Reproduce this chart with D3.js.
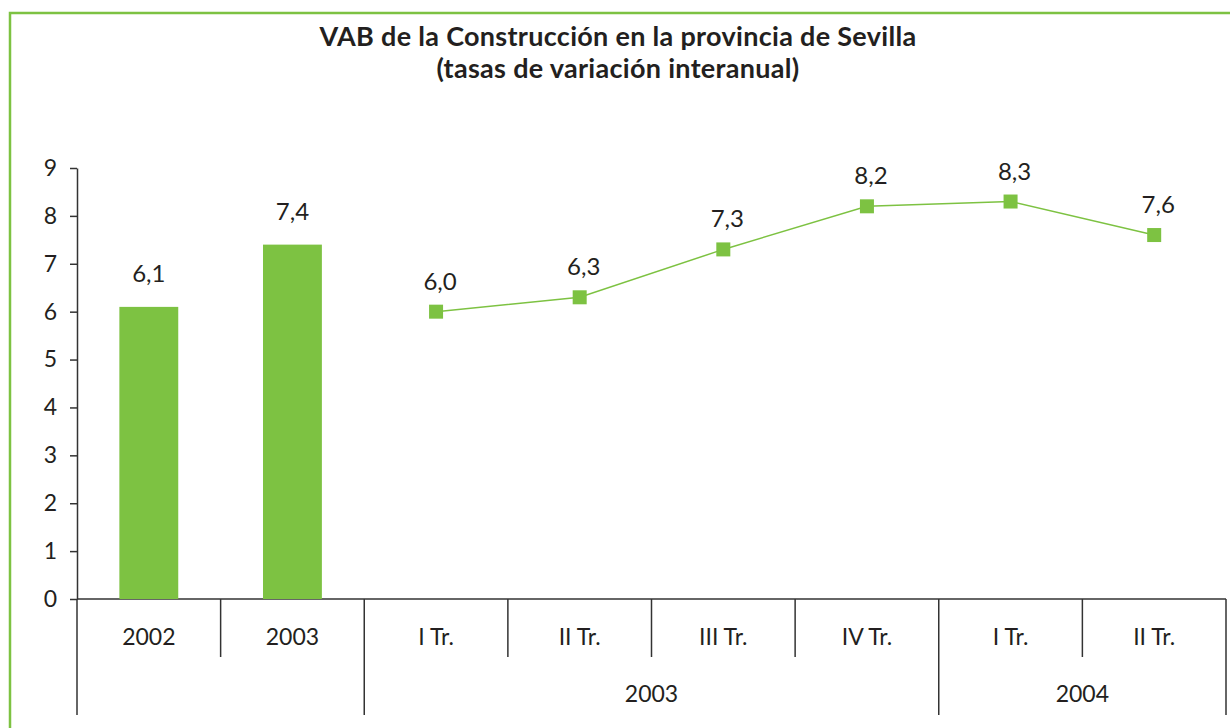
<!DOCTYPE html>
<html>
<head>
<meta charset="utf-8">
<script src="https://cdn.jsdelivr.net/npm/d3@7"></script>
<style>
body{margin:0;background:#fff;}
text{font-family:Lato,"Open Sans",sans-serif;fill:#231f20;}
.axis path,.axis line{stroke:#333;stroke-width:1.5;}
</style>
</head>
<body>
<svg id="chart"></svg>
<script>
// data
var barYears=["2002","2003"];
var barValues=[6.1,7.4];
var quarters=["I Tr.","II Tr.","III Tr.","IV Tr.","I Tr.","II Tr."];
var quarterYears=["2003","2003","2003","2003","2004","2004"];
var lineValues=[6.0,6.3,7.3,8.2,8.3,7.6];
var yTicks=[0,1,2,3,4,5,6,7,8,9];

var w=1230;
var h=728;
var green="#7dc242";
var margin={left:77,right:4,top:168,bottom:129};

var svg=d3.select("#chart")
          .attr("width",w)
          .attr("height",h);

// frame
svg.append("rect")
   .attr("x",10).attr("y",13)
   .attr("width",1300).attr("height",800)
   .attr("fill","none")
   .attr("stroke",green)
   .attr("stroke-width",2.5);

// title
svg.append("text")
   .attr("x",618).attr("y",46)
   .attr("text-anchor","middle")
   .style("font-size","27px").style("font-weight","bold")
   .style("letter-spacing","0.3px")
   .text("VAB de la Construcción en la provincia de Sevilla");
svg.append("text")
   .attr("x",618).attr("y",78)
   .attr("text-anchor","middle")
   .style("font-size","27px").style("font-weight","bold")
   .style("letter-spacing","0.3px")
   .text("(tasas de variación interanual)");

var labels=barYears.concat(quarters);
var idx=d3.range(labels.length);

var xScale=d3.scaleBand()
             .domain(idx)
             .range([margin.left,w-margin.right])
             .padding(0);
var yScale=d3.scaleLinear()
             .domain([0,9])
             .range([h-margin.bottom,margin.top]);

var fmt=function(v){return d3.format(".1f")(v).replace(".",",");};

// y axis
var yAxis=d3.axisLeft(yScale)
            .tickValues(yTicks)
            .tickSize(7)
            .tickSizeOuter(0)
            .tickPadding(13)
            .tickFormat(d3.format("d"));
var gy=svg.append("g")
   .classed("axis",true)
   .attr("transform","translate("+margin.left+",0)")
   .call(yAxis);
gy.selectAll("text").style("font-size","23px").attr("fill","#231f20");

// x axis line
var y0=yScale(0);
svg.append("line")
   .attr("x1",margin.left).attr("x2",w-margin.right)
   .attr("y1",y0).attr("y2",y0)
   .attr("stroke","#333").attr("stroke-width",1.5);

// separators
var longAt=[0,2,6,8];
d3.range(labels.length+1).forEach(function(i){
  var x=i<labels.length?xScale(i):xScale(labels.length-1)+xScale.bandwidth();
  var isLong=longAt.indexOf(i)>=0;
  svg.append("line")
     .attr("x1",x).attr("x2",x)
     .attr("y1",y0).attr("y2",isLong?715:657)
     .attr("stroke","#333").attr("stroke-width",1.5);
});

// category labels
svg.selectAll(".cat")
   .data(labels)
   .enter().append("text")
   .attr("class","cat")
   .attr("x",function(d,i){return xScale(i)+xScale.bandwidth()/2;})
   .attr("y",645)
   .attr("text-anchor","middle")
   .style("font-size","23px")
   .text(function(d){return d;});

// group labels
var groups=d3.groups(quarterYears.map(function(y,i){return {y:y,i:i+barYears.length};}),function(d){return d.y;});
groups.forEach(function(g){
  var first=g[1][0].i, last=g[1][g[1].length-1].i;
  var cx=(xScale(first)+xScale(last)+xScale.bandwidth())/2;
  svg.append("text")
     .attr("x",cx).attr("y",702)
     .attr("text-anchor","middle")
     .style("font-size","23px")
     .text(g[0]);
});

// bars
var bw=xScale.bandwidth()*0.41;
svg.selectAll(".bar")
   .data(barValues)
   .enter().append("rect")
   .attr("class","bar")
   .attr("x",function(d,i){return xScale(i)+(xScale.bandwidth()-bw)/2;})
   .attr("width",bw)
   .attr("y",function(d){return yScale(d);})
   .attr("height",function(d){return y0-yScale(d);})
   .attr("fill",green);
svg.selectAll(".barlab")
   .data(barValues)
   .enter().append("text")
   .attr("x",function(d,i){return xScale(i)+xScale.bandwidth()/2;})
   .attr("y",function(d){return yScale(d)-25;})
   .attr("text-anchor","middle")
   .style("font-size","24px")
   .text(fmt);

// line
var off=barYears.length;
var cx=function(d,i){return xScale(i+off)+xScale.bandwidth()/2;};
var line=d3.line()
           .x(cx)
           .y(function(d){return yScale(d);});
svg.append("path")
   .datum(lineValues)
   .attr("d",line)
   .attr("fill","none")
   .attr("stroke",green)
   .attr("stroke-width",1.5);
svg.selectAll(".pt")
   .data(lineValues)
   .enter().append("rect")
   .attr("x",function(d,i){return cx(d,i)-7;})
   .attr("y",function(d){return yScale(d)-7;})
   .attr("width",14).attr("height",14)
   .attr("fill",green);
svg.selectAll(".ptlab")
   .data(lineValues)
   .enter().append("text")
   .attr("x",function(d,i){return cx(d,i)+4;})
   .attr("y",function(d){return yScale(d)-22;})
   .attr("text-anchor","middle")
   .style("font-size","24px")
   .text(fmt);
</script>
</body>
</html>
